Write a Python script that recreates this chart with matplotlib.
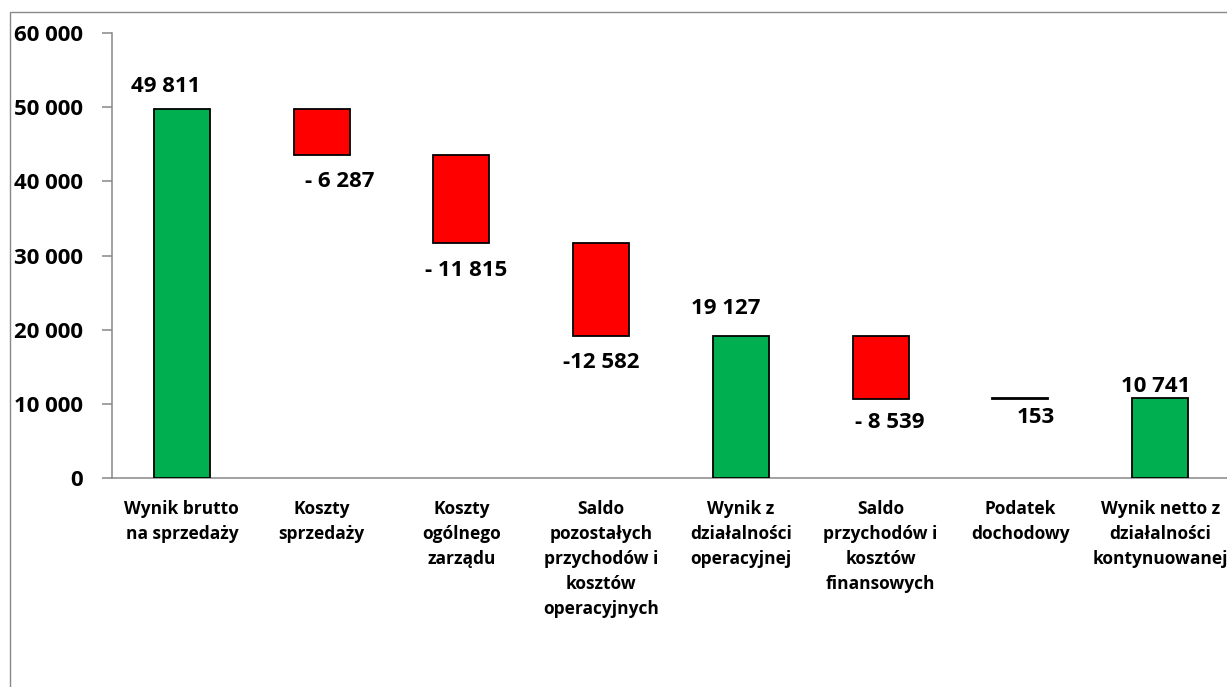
import numpy as np
from matplotlib import pyplot as plt
from matplotlib.patches import Rectangle

# data
categories = ["Wynik brutto\nna sprzedaży", "Koszty\nsprzedaży", "Koszty\nogólnego\nzarządu",
              "Saldo\npozostałych\nprzychodów i\nkosztów\noperacyjnych",
              "Wynik z\ndziałalności\noperacyjnej", "Saldo\nprzychodów i\nkosztów\nfinansowych",
              "Podatek\ndochodowy", "Wynik netto z\ndziałalności\nkontynuowanej"]
values = [49811, -6287, -11815, -12582, 19127, -8539, 153, 10741]
kinds = ["total", "delta", "delta", "delta", "total", "delta", "delta", "total"]
value_labels = ["49 811", "- 6 287", "- 11 815", "-12 582", "19 127", "- 8 539", "153", "10 741"]
y_ticks = [0, 10000, 20000, 30000, 40000, 50000, 60000]
y_tick_labels = ["0", "10 000", "20 000", "30 000", "40 000", "50 000", "60 000"]

# label placement (pixels from bar edge)
label_dx = [-16, 18, 5, 0, -15, 9, 15, -4]
label_dy = [22, -26, -28, -26, 28, -23, -18, 12]

plt.rcParams['font.family'] = ['Open Sans', 'DejaVu Sans']
plt.rcParams['font.weight'] = 'bold'

W, H = 1227, 687
fig = plt.figure(figsize=(W / 100, H / 100), dpi=100)
ax = fig.add_axes([112 / W, 1 - 478 / H, (1230 - 112) / W, (478 - 33) / H])

# waterfall bottoms/heights
bottoms = []
heights = []
colors = []
running = 0
for v, k in zip(values, kinds):
    if k == "total":
        bottoms.append(0)
        heights.append(v)
        colors.append("#00B050")
        running = v
    else:
        bottoms.append(running + min(v, 0))
        heights.append(abs(v))
        colors.append("#FF0000" if v < 0 else "black")
        running += v

x = np.arange(len(categories))
ax.bar(x, heights, bottom=bottoms, width=0.4, color=colors, edgecolor="black", linewidth=1.3, zorder=3)

for i in range(len(values)):
    if label_dy[i] > 0:
        anchor = bottoms[i] + heights[i]
    else:
        anchor = bottoms[i]
    ax.annotate(value_labels[i], (x[i], anchor), xytext=(label_dx[i], label_dy[i]),
                textcoords="offset pixels", ha="center", va="center",
                fontsize=16, fontweight="bold", color="black")

ax.set_xlim(-0.5, len(categories) - 0.5)
ax.set_ylim(0, 60000)
ax.set_yticks(y_ticks)
ax.set_yticklabels(y_tick_labels, fontsize=16, fontweight="bold")
ax.set_xticks(x)
ax.set_xticklabels(categories, fontsize=12.5, fontweight="bold", linespacing=1.5)
ax.tick_params(axis="x", length=0, pad=16)
ax.tick_params(axis="y", direction="out", length=7, width=1.1, color="#888888", pad=14)

for s in ["top", "right"]:
    ax.spines[s].set_visible(False)
for s in ["left", "bottom"]:
    ax.spines[s].set_color("#888888")
    ax.spines[s].set_linewidth(1.1)

# outer chart frame
fig.patches.append(Rectangle((9.5 / W, -0.5), 1.5, 1.5 - 12 / H, transform=fig.transFigure,
                             fill=False, edgecolor="#898989", linewidth=1.0))

fig.savefig("out.png", dpi=100)
